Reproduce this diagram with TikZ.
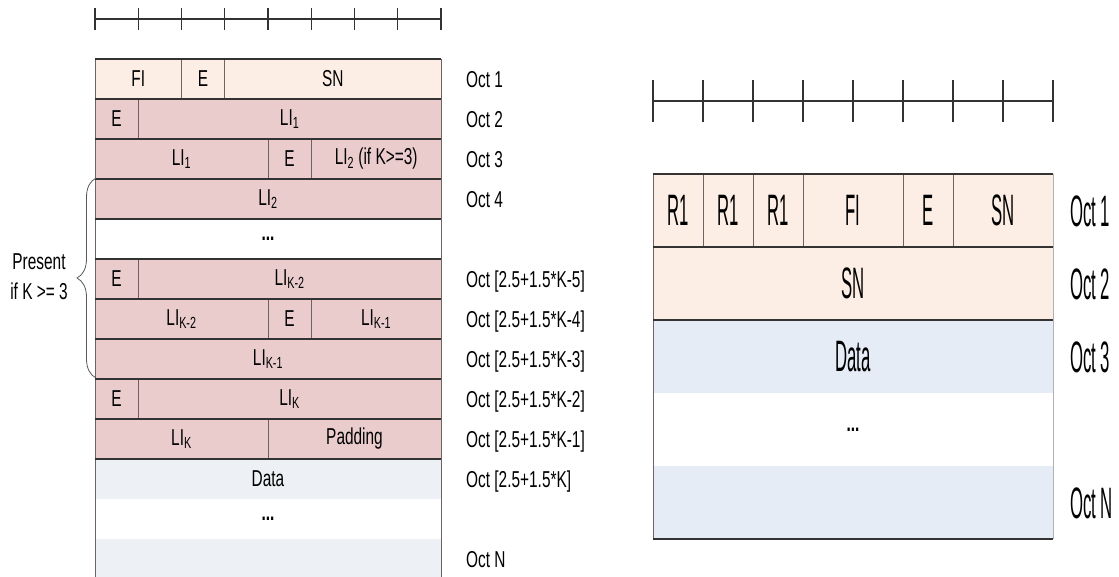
\documentclass[tikz,border=0pt]{standalone}
\usepackage{fontspec}
\usepackage{tikz}
\usetikzlibrary{decorations.pathreplacing}
\newfontfamily\cellfont[FakeStretch=0.67]{Liberation Sans}
\newfontfamily\tallfont[FakeStretch=0.38]{Liberation Sans}
\definecolor{hdr}{HTML}{FCEEE4}
\definecolor{lifield}{HTML}{EBCCCC}
\definecolor{datfield}{HTML}{EDF0F5}
\definecolor{datfieldb}{HTML}{E5ECF6}
\definecolor{rowrule}{HTML}{333333}
\definecolor{sepline}{HTML}{6E6262}
\newcommand\LI[1]{LI\textsubscript{#1}}
\tikzset{
  cell/.style={draw=sepline, line width=0.9pt},
  rowline/.style={draw=rowrule, line width=1.5pt},
  ruler/.style={draw=rowrule, line width=1.3pt},
  txt/.style={font=\cellfont\fontsize{23}{30}\selectfont, inner sep=0pt},
  bigtxt/.style={font=\tallfont\fontsize{44}{48}\selectfont, inner sep=0pt},
  dots/.style={font=\cellfont\bfseries\fontsize{23}{30}\selectfont, inner sep=0pt},
  oct/.style={anchor=base west, inner sep=0pt},
}

\begin{document}
\begin{tikzpicture}[x=1pt, y=-1pt]
\useasboundingbox (0,0) rectangle (1119,576);
% bit scales
\draw [ruler] (95,19) -- (441,19);
\draw [ruler] (95,8) -- (95,30) (138.25,8) -- (138.25,30) (181.5,8) -- (181.5,30) (224.75,8) -- (224.75,30) (268,8) -- (268,30) (311.25,8) -- (311.25,30) (354.5,8) -- (354.5,30) (397.75,8) -- (397.75,30) (441,8) -- (441,30);
\draw [ruler] (653,101) -- (1053,101);
\draw [ruler] (653,80) -- (653,122) (703,80) -- (703,122) (753,80) -- (753,122) (803,80) -- (803,122) (853,80) -- (853,122) (903,80) -- (903,122) (953,80) -- (953,122) (1003,80) -- (1003,122) (1053,80) -- (1053,122);
% left header
\draw [cell, fill=hdr] (95,59) rectangle node[txt] (fi) {FI} (181.5,99);
\draw [cell, fill=hdr] (181.5,59) rectangle node[txt] (e1) {E} (224.75,99);
\draw [cell, fill=hdr] (224.75,59) rectangle node[txt] (sn) {SN} (441,99);
\draw [cell, fill=lifield] (95,99) rectangle node[txt] (e2) {E} (138.25,139);
\draw [cell, fill=lifield] (138.25,99) rectangle node[txt] (li1a) {\LI{1}} (441,139);
\draw [cell, fill=lifield] (95,139) rectangle node[txt] (li1b) {\LI{1}} (268,179);
\draw [cell, fill=lifield] (268,139) rectangle node[txt] (e3) {E} (311.25,179);
\draw [cell, fill=lifield] (311.25,139) rectangle node[txt] (li2a) {\LI{2} (if K>=3)} (441,179);
\draw [cell, fill=lifield] (95,179) rectangle node[txt] (li2b) {\LI{2}} (441,219);
\draw [cell, fill=white] (95,219) rectangle node[dots] (gap1) {...} (441,259);
\draw [cell, fill=lifield] (95,259) rectangle node[txt] (e6) {E} (138.25,299);
\draw [cell, fill=lifield] (138.25,259) rectangle node[txt] (likma) {\LI{K-2}} (441,299);
\draw [cell, fill=lifield] (95,299) rectangle node[txt] (likmb) {\LI{K-2}} (268,339);
\draw [cell, fill=lifield] (268,299) rectangle node[txt] (e7) {E} (311.25,339);
\draw [cell, fill=lifield] (311.25,299) rectangle node[txt] (likna) {\LI{K-1}} (441,339);
\draw [cell, fill=lifield] (95,339) rectangle node[txt] (liknb) {\LI{K-1}} (441,379);
\draw [cell, fill=lifield] (95,379) rectangle node[txt] (e9) {E} (138.25,419);
\draw [cell, fill=lifield] (138.25,379) rectangle node[txt] (lika) {\LI{K}} (441,419);
\draw [cell, fill=lifield] (95,419) rectangle node[txt] (likb) {\LI{K}} (268,459);
\draw [cell, fill=lifield] (268,419) rectangle node[txt] (pad) {Padding} (441,459);
\path [fill=datfield] (95,459) rectangle node[txt] (data1) {Data} (441,499);
\node [dots] (gap2) at (268,519) {...};
\path [fill=datfield] (95,539) rectangle (441,577);
\draw [cell] (95,459) -- (95,577) (441,459) -- (441,577);
\draw [rowline] (95,59) -- (441,59) (95,99) -- (441,99) (95,139) -- (441,139) (95,179) -- (441,179) (95,219) -- (441,219) (95,259) -- (441,259) (95,299) -- (441,299) (95,339) -- (441,339) (95,379) -- (441,379) (95,419) -- (441,419) (95,459) -- (441,459);
% octet numbers, left
\node [txt, oct] (oct1) at (466,87) {Oct 1};
\node [txt, oct] (oct2) at (466,127) {Oct 2};
\node [txt, oct] (oct3) at (466,167) {Oct 3};
\node [txt, oct] (oct4) at (466,207) {Oct 4};
\node [txt, oct] (oct5) at (466,287) {Oct [2.5+1.5*K-5]};
\node [txt, oct] (oct6) at (466,327) {Oct [2.5+1.5*K-4]};
\node [txt, oct] (oct7) at (466,367) {Oct [2.5+1.5*K-3]};
\node [txt, oct] (oct8) at (466,407) {Oct [2.5+1.5*K-2]};
\node [txt, oct] (oct9) at (466,447) {Oct [2.5+1.5*K-1]};
\node [txt, oct] (oct10) at (466,487) {Oct [2.5+1.5*K]};
\node [txt, oct] (octn) at (466,567) {Oct N};
% optional LI fields
\coordinate (brtop) at (96,178);
\coordinate (brbot) at (96,378);
\draw [decorate, decoration={brace, amplitude=19pt}, draw=gray!70!black, line width=0.8pt] (brbot) -- (brtop);
\node [txt, align=center] (present) at (39,277) {Present\\if K >= 3};
% right header
\draw [cell, fill=hdr] (653,174) rectangle node[bigtxt] (ra) {R1} (703,247);
\draw [cell, fill=hdr] (703,174) rectangle node[bigtxt] (rb) {R1} (753,247);
\draw [cell, fill=hdr] (753,174) rectangle node[bigtxt] (rc) {R1} (803,247);
\draw [cell, fill=hdr] (803,174) rectangle node[bigtxt] (fib) {FI} (903,247);
\draw [cell, fill=hdr] (903,174) rectangle node[bigtxt] (eb) {E} (953,247);
\draw [cell, fill=hdr] (953,174) rectangle node[bigtxt] (snb) {SN} (1053,247);
\path [fill=hdr] (653,247) rectangle node[bigtxt] (snc) {SN} (1053,320);
\path [fill=datfieldb] (653,320) rectangle node[bigtxt] (data2) {Data} (1053,393);
\node [dots] (gap3) at (853,429.5) {...};
\path [fill=datfieldb] (653,466) rectangle (1053,539);
\draw [cell] (653,174) -- (653,539);
\draw [cell, draw=gray!60] (1053,174) -- (1053,539);
\draw [rowline] (653,174) -- (1053,174) (653,247) -- (1053,247) (653,320) -- (1053,320) (653,539) -- (1053,539);
% octet numbers, right
\node [bigtxt, oct] (octb1) at (1070,226) {Oct 1};
\node [bigtxt, oct] (octb2) at (1070,299) {Oct 2};
\node [bigtxt, oct] (octb3) at (1070,372) {Oct 3};
\node [bigtxt, oct] (octbn) at (1070,518) {Oct N};
\end{tikzpicture}
\end{document}
